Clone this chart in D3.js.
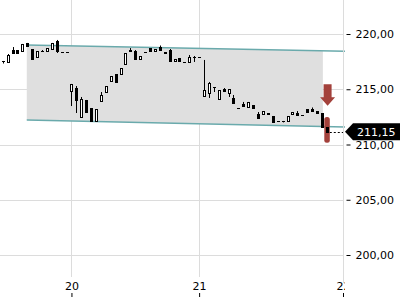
<!DOCTYPE html>
<html>
<head>
<meta charset="utf-8">
<script src="https://cdn.jsdelivr.net/npm/d3@7"></script>
<style>
body { margin: 0; background: #fff; }
svg { display: block; font-family: "DejaVu Sans", sans-serif; }
</style>
</head>
<body>
<script>
'use strict';

// candles, one per slot
let openP  = [217.56,217.47,218.55,218.55,218.46,219.19,218.64,217.92,218.50,218.46,218.64,219.37,218.37,218.37,
  214.84,215.11,212.49,214.03,213.30,212.13,213.94,214.75,215.75,216.38,216.38,217.29,218.55,218.46,217.74,218.37,
  218.73,218.46,218.82,218.37,218.55,217.56,217.83,217.47,217.47,217.96,217.92,
  214.39,214.66,215.16,214.12,215.02,214.66,214.21,213.30,213.67,213.39,213.57,212.76,212.76,212.85,212.58,212.13,
  212.13,212.13,212.76,212.85,212.67,213.21,213.21,213.03,212.85,211.58];
let closeP = [217.56,218.10,218.28,218.32,219.10,218.91,217.74,218.46,218.50,218.73,219.19,218.46,218.37,218.37,
  215.48,214.03,214.12,212.94,212.13,213.21,214.48,215.29,216.20,215.66,216.92,218.28,218.42,217.74,218.01,218.37,
  218.46,218.64,218.55,218.28,217.56,217.74,217.56,217.47,217.92,217.96,217.92,
  214.93,215.57,215.16,214.93,214.84,215.02,213.76,213.30,213.48,213.85,213.30,212.40,213.03,212.72,212.04,212.13,
  212.13,212.58,212.94,212.67,212.67,212.94,213.03,212.85,211.58,211.15];
let highP  = [217.56,218.19,218.82,218.55,219.10,219.19,218.64,218.46,218.55,218.73,219.19,219.46,218.37,218.37,
  215.48,215.29,214.30,214.03,213.30,213.21,214.75,215.29,216.20,216.38,216.92,218.28,218.73,218.55,218.01,218.37,
  218.73,218.64,218.96,218.37,218.64,217.74,217.83,217.47,218.10,218.01,217.92,
  217.65,215.66,215.20,214.93,215.11,215.02,214.48,213.30,213.85,213.85,213.57,212.94,213.03,212.85,212.58,212.13,
  212.13,212.58,212.94,213.03,212.67,213.21,213.35,213.03,212.85,211.58];
let lowP   = [217.33,217.38,218.28,218.28,218.46,218.91,217.74,217.92,218.37,218.46,218.64,218.28,218.37,218.37,
  213.48,212.85,212.40,212.94,212.13,212.13,213.94,214.75,215.75,215.66,216.38,217.29,218.42,217.74,217.74,218.37,
  218.46,218.46,218.55,218.28,217.47,217.56,217.56,217.47,217.47,217.47,217.92,
  214.39,214.21,214.75,214.12,214.84,214.30,213.76,213.30,213.48,213.39,213.30,212.40,212.76,212.72,212.04,212.13,
  212.00,212.13,212.76,212.67,212.67,212.94,213.03,212.85,211.58,211.05];

// trend channel
let channelIdx = [4.9, 69.7];
let channelTop = [219.0, 218.45];
let channelBot = [212.22, 211.58];
let shadeIdx = [4.9, 65.2];

// last price marker
let lastPrice = 211.15;
let highlightRange = [212.5, 210.15];
let arrowRange = [215.45, 213.5];

let yTicks = [200, 205, 210, 215, 220];
let dayTicks = [14, 40, 69.3];
let dayLabels = ['20', '21', '22'];

let width = 400, height = 300;
let plotRight = 343, plotBottom = 277;

let svg = d3.select('body').append('svg')
	.attr('width', width)
	.attr('height', height);

let x = d3.scaleLinear().domain([-0.55, 69.3]).range([0, plotRight]);
let y = d3.scaleLinear().domain([200, 220]).range([255, 34]);
let fmt = d => d.toFixed(2).replace('.', ',');
let px = v => Math.round(v) + 0.5;

// grid
svg.append('g').selectAll('line').data(yTicks).join('line')
	.attr('x1', 0).attr('x2', plotRight)
	.attr('y1', d => px(y(d))).attr('y2', d => px(y(d)))
	.attr('stroke', '#dcdcdc');
svg.append('g').selectAll('line').data(dayTicks).join('line')
	.attr('x1', d => px(x(d))).attr('x2', d => px(x(d)))
	.attr('y1', 0).attr('y2', plotBottom)
	.attr('stroke', '#dcdcdc');

// channel
let topLine = d3.scaleLinear().domain(channelIdx).range(channelTop);
let botLine = d3.scaleLinear().domain(channelIdx).range(channelBot);
svg.append('path')
	.attr('d', d3.area().x(d => x(d)).y0(d => y(botLine(d))).y1(d => y(topLine(d)))(shadeIdx))
	.attr('fill', '#dfdfdf');
[topLine, botLine].forEach(f => {
	svg.append('path')
		.attr('d', d3.line().x(d => x(d)).y(d => y(f(d)))(channelIdx))
		.attr('fill', 'none')
		.attr('stroke', '#6aaaac')
		.attr('stroke-width', 1.5);
});

// highlight behind last candle
let last = openP.length - 1;
svg.append('rect')
	.attr('x', x(last) - 2.5)
	.attr('width', 5.5)
	.attr('y', y(highlightRange[0]))
	.attr('height', y(highlightRange[1]) - y(highlightRange[0]))
	.attr('rx', 2.5)
	.attr('fill', '#a3413b');

// candles
let candles = svg.append('g').selectAll('g').data(openP.map((o, i) => i)).join('g');
candles.append('line')
	.attr('x1', i => px(x(i))).attr('x2', i => px(x(i)))
	.attr('y1', i => y(highP[i])).attr('y2', i => y(lowP[i]))
	.attr('stroke', '#000');
candles.append('rect')
	.attr('x', i => Math.round(x(i)) - 0.5)
	.attr('width', 2)
	.attr('y', i => Math.round(y(Math.max(openP[i], closeP[i]))) + 0.5)
	.attr('height', i => Math.max(0.01, Math.round(Math.abs(y(openP[i]) - y(closeP[i])))))
	.attr('fill', i => closeP[i] >= openP[i] ? '#fff' : '#000')
	.attr('stroke', '#000');

// arrow
let ax = x(last) + 0.8;
let a0 = y(arrowRange[0]), a1 = y(arrowRange[1]);
let neck = a1 - 8.5;
svg.append('path')
	.attr('d', `M${ax - 4},${a0}H${ax + 4}V${neck}H${ax + 7.5}L${ax},${a1}L${ax - 7.5},${neck}H${ax - 4}Z`)
	.attr('fill', '#a3413b');

// last price line and label
let ly = y(lastPrice);
svg.append('line')
	.attr('x1', x(last) + 3).attr('x2', 345)
	.attr('y1', px(ly)).attr('y2', px(ly))
	.attr('stroke', '#000')
	.attr('stroke-dasharray', '2,2');

// axes
let yAxis = svg.append('g')
	.attr('transform', `translate(${plotRight + 3.5},0)`)
	.call(d3.axisRight(y).tickValues(yTicks).tickFormat(fmt).tickSize(4).tickPadding(5));
yAxis.select('.domain').remove();
yAxis.selectAll('text').attr('font-size', 11).attr('fill', '#000').attr('font-family', '"DejaVu Sans", sans-serif');

svg.append('line')
	.attr('x1', px(plotRight)).attr('x2', px(plotRight))
	.attr('y1', 0).attr('y2', 283)
	.attr('stroke', '#dcdcdc');

svg.append('clipPath').attr('id', 'xclip')
	.append('rect').attr('x', 0).attr('y', 0).attr('width', 345).attr('height', 300);
let xAxis = svg.append('g')
	.attr('clip-path', 'url(#xclip)')
	.append('g')
	.attr('transform', 'translate(0,297)')
	.call(d3.axisTop(x).tickValues(dayTicks).tickFormat((d, i) => dayLabels[i]).tickSize(4).tickPadding(3));
xAxis.select('.domain').remove();
xAxis.selectAll('text').attr('font-size', 11).attr('fill', '#000').attr('font-family', '"DejaVu Sans", sans-serif');

svg.append('path')
	.attr('d', `M345,${ly}L353,${ly - 8.5}H400V${ly + 8.5}H353Z`)
	.attr('fill', '#000');
svg.append('text')
	.attr('x', 357).attr('y', ly)
	.attr('dy', '0.35em')
	.attr('font-size', 11)
	.attr('fill', '#fff')
	.text(fmt(lastPrice));
</script>
</body>
</html>
